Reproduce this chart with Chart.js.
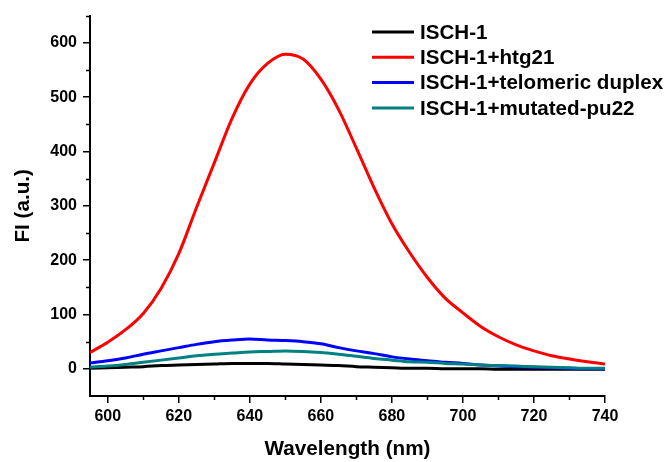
<!DOCTYPE html>
<html>
<head>
<meta charset="utf-8">
<script src="https://cdn.jsdelivr.net/npm/chart.js@4"></script>
<style>
  html, body { margin: 0; padding: 0; background: #fff; }
</style>
</head>
<body>
<canvas id="chart" width="667" height="462"></canvas>
<script>
const wavelengths = [595, 600, 605, 610, 615, 620, 625, 630, 635, 640, 645, 650, 655, 660, 665,
                     670, 675, 680, 685, 690, 695, 700, 705, 710, 715, 720, 725, 730, 735, 740];

const isch1 = [1, 2, 3, 4, 6, 7, 8, 9, 10, 10, 10, 9, 8, 7, 6,
               4, 3, 2, 1, 1, 0, 0, 0, -1, -1, -1, -1, -1, -1, -1];
const htg21 = [30, 49, 72, 102, 148, 212, 297, 379, 461, 524, 562, 579, 570, 533, 477,
               406, 333, 267, 214, 168, 130, 103, 78, 59, 44, 33, 24, 18, 13, 9];
const telomeric = [11, 15, 20, 27, 33, 39, 45, 50, 53, 55, 53, 52, 50, 46, 39,
                   33, 28, 22, 18, 15, 12, 10, 7, 5, 4, 3, 2, 1, 0, 0];
const mutatedPu22 = [3, 5, 8, 12, 16, 20, 24, 27, 29, 31, 32, 33, 32, 30, 27,
                     23, 19, 16, 13, 12, 10, 9, 7, 6, 5, 4, 3, 2, 1, 1];

const seriesNames = ['ISCH-1', 'ISCH-1+htg21', 'ISCH-1+telomeric duplex', 'ISCH-1+mutated-pu22'];
const seriesColors = ['#000000', '#ff0000', '#0000ff', '#008080'];

const xTicks = [600, 620, 640, 660, 680, 700, 720, 740];
const xMinorTicks = [610, 630, 650, 670, 690, 710, 730];
const yTicks = [0, 100, 200, 300, 400, 500, 600];
const yMinorTicks = [50, 150, 250, 350, 450, 550, 650];

const FONT = '"Liberation Sans", Arial, sans-serif';

// short minor ticks, Chart.js has none of its own
const minorTicks = {
  id: 'minorTicks',
  afterDraw(chart) {
    const ctx = chart.ctx;
    const xs = chart.scales.x, ys = chart.scales.y;
    const area = chart.chartArea;
    ctx.save();
    ctx.strokeStyle = '#000';
    ctx.lineWidth = 1.5;
    ctx.beginPath();
    xMinorTicks.forEach(v => {
      const px = Math.round(xs.getPixelForValue(v)) + 0.5;
      ctx.moveTo(px, area.bottom);
      ctx.lineTo(px, area.bottom + 4);
    });
    yMinorTicks.forEach(v => {
      const py = Math.round(ys.getPixelForValue(v)) + 0.5;
      ctx.moveTo(area.left, py);
      ctx.lineTo(area.left - 4, py);
    });
    ctx.stroke();
    ctx.restore();
  }
};

const insideLegend = {
  id: 'insideLegend',
  afterDraw(chart) {
    const ctx = chart.ctx;
    ctx.save();
    ctx.font = 'bold 20.6px ' + FONT;
    ctx.textBaseline = 'middle';
    ctx.fillStyle = '#000';
    chart.data.datasets.forEach((ds, i) => {
      const y = 32 + i * 25.3;
      ctx.strokeStyle = ds.borderColor;
      ctx.lineWidth = 3;
      ctx.beginPath();
      ctx.moveTo(372, y);
      ctx.lineTo(414, y);
      ctx.stroke();
      ctx.fillText(ds.label, 420, y + 1);
    });
    ctx.restore();
  }
};

const seriesData = [isch1, htg21, telomeric, mutatedPu22];

new Chart(document.getElementById('chart'), {
  type: 'line',
  data: {
    labels: wavelengths,
    datasets: seriesData.map((d, i) => ({
      label: seriesNames[i],
      data: d,
      borderColor: seriesColors[i],
      borderWidth: 3,
      pointRadius: 0,
      fill: false,
      cubicInterpolationMode: 'monotone',
      order: 4 - i
    }))
  },
  options: {
    responsive: false,
    animation: false,
    devicePixelRatio: 1,
    layout: { padding: { top: 15, right: 62, left: 0, bottom: 0 } },
    plugins: {
      legend: { display: false },
      tooltip: { enabled: false }
    },
    scales: {
      x: {
        type: 'linear',
        min: 595,
        max: 740,
        afterBuildTicks: s => { s.ticks = xTicks.map(v => ({ value: v })); },
        afterFit: s => { s.height = 66; },
        grid: { drawOnChartArea: false, drawTicks: true, tickLength: 7, color: '#000', lineWidth: 1.5 },
        border: { display: true, color: '#000', width: 2 },
        ticks: { color: '#000', padding: 4, maxRotation: 0, font: { family: FONT, size: 16, weight: 'bold' } },
        title: {
          display: true,
          text: 'Wavelength (nm)',
          color: '#000',
          padding: { top: 0, bottom: 0 },
          font: { family: FONT, size: 20.7, weight: 'bold' }
        }
      },
      y: {
        min: -50,
        max: 650,
        afterBuildTicks: s => { s.ticks = yTicks.map(v => ({ value: v })); },
        afterFit: s => { s.width = 90; },
        grid: { drawOnChartArea: false, drawTicks: true, tickLength: 7, color: '#000', lineWidth: 1.5 },
        border: { display: true, color: '#000', width: 2 },
        ticks: { color: '#000', padding: 6, font: { family: FONT, size: 16, weight: 'bold' } },
        title: {
          display: true,
          text: 'FI (a.u.)',
          color: '#000',
          padding: { top: 11, bottom: 0 },
          font: { family: FONT, size: 20.7, weight: 'bold' }
        }
      }
    }
  },
  plugins: [minorTicks, insideLegend]
});
</script>
</body>
</html>
